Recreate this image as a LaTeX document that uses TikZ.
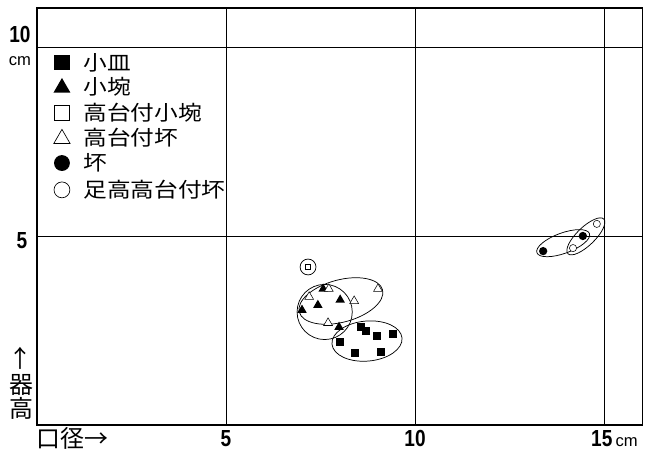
\documentclass[tikz,border=0pt]{standalone}
\usepackage{fontspec}
\setmainfont{Liberation Sans}
\newfontfamily\jp{Noto Sans CJK JP}
\newfontfamily\jpw[FakeStretch=1.15]{Noto Sans CJK JP}
\newfontfamily\numf[FakeStretch=0.82]{Liberation Sans}
\usetikzlibrary{shapes.geometric}
\begin{document}
\begin{tikzpicture}[
  sqm/.style={rectangle, fill=black, minimum size=0.2cm, inner sep=0pt},
  osqm/.style={rectangle, draw=black, fill=white, line width=0.45pt, minimum size=0.14cm, inner sep=0pt},
  trim/.style={regular polygon, regular polygon sides=3, fill=black, minimum size=0.29cm, inner sep=0pt},
  otrim/.style={regular polygon, regular polygon sides=3, draw=black, fill=white, line width=0.4pt, minimum size=0.27cm, inner sep=0pt},
  dotm/.style={circle, fill=black, minimum size=0.22cm, inner sep=0pt},
  odotm/.style={circle, draw=black, fill=white, line width=0.4pt, minimum size=0.19cm, inner sep=0pt},
  gridln/.style={line width=0.6pt},
  framel/.style={line width=0.9pt},
  ring/.style={line width=0.55pt},
  lab/.style={inner sep=0pt, font=\numf\bfseries\fontsize{17.5}{17.5}\selectfont},
  unitlab/.style={inner sep=0pt, font=\fontsize{12.5}{12.5}\selectfont},
  leg/.style={anchor=west, inner sep=0pt, font=\jpw\fontsize{15.5}{16}\selectfont},
  axl/.style={inner sep=0pt, font=\jp\fontsize{18}{18}\selectfont},
]
\useasboundingbox (-0.979,-0.714) rectangle (16.19,11.243);
% grid
\draw[gridln] (5,0) -- (5,11.03) (10,0) -- (10,11.03) (15,0) -- (15,11.03);
\draw[gridln] (0,5) -- (16.02,5) (0,10) -- (16.02,10);
\draw[framel] (0,0) rectangle (16.02,11.03);
% ellipses
\draw[ring] (7.17,4.18) circle [radius=0.21];
\draw[ring] (7.61,2.99) circle [radius=0.73];
\draw[ring, rotate around={15:(8.04,3.28)}] (8.04,3.28) ellipse [x radius=1.14, y radius=0.56];
\draw[ring, rotate around={5:(8.73,2.22)}] (8.73,2.22) ellipse [x radius=0.93, y radius=0.53];
\draw[ring, rotate around={20:(13.92,4.81)}] (13.92,4.81) ellipse [x radius=0.74, y radius=0.27];
\draw[ring, rotate around={44:(14.52,4.99)}] (14.52,4.99) ellipse [x radius=0.66, y radius=0.24];
% points
\node[osqm] (p0) at (7.17,4.18) {};
\node[trim] (t1) at (7.57,3.60) {};
\node[trim] (t2) at (7.43,3.17) {};
\node[trim] (t3) at (8.02,3.31) {};
\node[trim] (t4) at (7.01,3.04) {};
\node[trim] (t5) at (7.99,2.59) {};
\node[otrim] (o1) at (7.72,3.60) {};
\node[otrim] (o2) at (7.20,3.39) {};
\node[otrim] (o3) at (8.39,3.28) {};
\node[otrim] (o4) at (9.02,3.60) {};
\node[otrim] (o5) at (7.70,2.70) {};
\node[sqm] (s1) at (8.57,2.59) {};
\node[sqm] (s2) at (8.70,2.49) {};
\node[sqm] (s3) at (8.99,2.35) {};
\node[sqm] (s4) at (9.42,2.41) {};
\node[sqm] (s5) at (8.02,2.20) {};
\node[sqm] (s6) at (8.41,1.90) {};
\node[sqm] (s7) at (9.10,1.93) {};
\node[dotm] (d1) at (13.39,4.60) {};
\node[dotm] (d2) at (14.44,5.00) {};
\node[odotm] (c1) at (14.81,5.32) {};
\node[odotm] (c2) at (14.18,4.68) {};
% legend
\node[sqm, minimum size=0.40cm] (lm1) at (0.66,9.58) {};
\node[trim, minimum size=0.52cm] (lm2) at (0.66,8.92) {};
\node[osqm, minimum size=0.40cm, line width=0.5pt] (lm3) at (0.66,8.25) {};
\node[otrim, minimum size=0.50cm, line width=0.5pt] (lm4) at (0.66,7.57) {};
\node[dotm, minimum size=0.42cm] (lm5) at (0.66,6.93) {};
\node[odotm, minimum size=0.42cm, line width=0.5pt] (lm6) at (0.66,6.22) {};
\node[leg] (lt1) at (1.22,9.58) {小皿};
\node[leg] (lt2) at (1.22,8.94) {小埦};
\node[leg] (lt3) at (1.22,8.25) {高台付小埦};
\node[leg] (lt4) at (1.22,7.59) {高台付坏};
\node[leg] (lt5) at (1.22,6.93) {坏};
\node[leg] (lt6) at (1.22,6.22) {足高高台付坏};
% axis labels
\node[lab] (y10) at (-0.45,10.32) {10};
\node[unitlab] (ycm) at (-0.45,9.63) {cm};
\node[lab] (y5) at (-0.40,4.89) {5};
\node[lab] (x5) at (5.0,-0.37) {5};
\node[lab] (x10) at (10.0,-0.37) {10};
\node[lab] (x15) at (14.94,-0.37) {15};
\node[unitlab, anchor=base west] (xcm) at ([xshift=2pt]x15.base east) {cm};
\node[axl, anchor=west] (xax) at (-0.02,-0.35) {口径→};
\node[axl] (up) at (-0.43,1.75) {↑};
\node[axl] (yk1) at (-0.40,1.06) {器};
\node[axl] (yk2) at (-0.40,0.45) {高};
\end{tikzpicture}
\end{document}
